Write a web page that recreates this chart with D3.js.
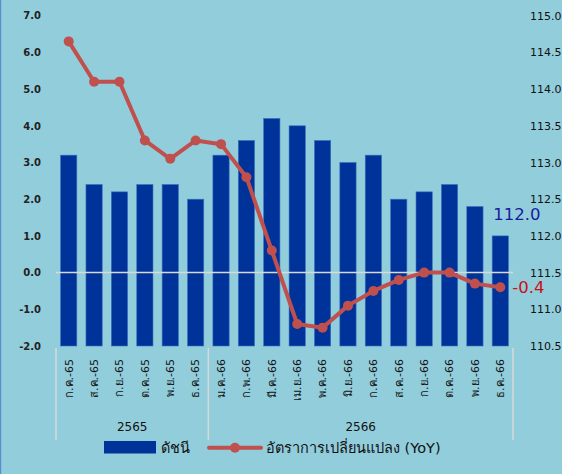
<!DOCTYPE html>
<html><head><meta charset="utf-8">
<script src="https://cdn.jsdelivr.net/npm/d3@7"></script>
<style>
html,body{margin:0;padding:0;background:#92CDDC;}
svg{display:block;}
</style></head>
<body>
<svg id="c" width="562" height="474"></svg>
<script>
const categories = ["ก.ค.-65","ส.ค.-65","ก.ย.-65","ต.ค.-65","พ.ย.-65","ธ.ค.-65","ม.ค.-66","ก.พ.-66","มี.ค.-66","เม.ย.-66","พ.ค.-66","มิ.ย.-66","ก.ค.-66","ส.ค.-66","ก.ย.-66","ต.ค.-66","พ.ย.-66","ธ.ค.-66"];
const indexValues = [113.1,112.7,112.6,112.7,112.7,112.5,113.1,113.3,113.6,113.5,113.3,113.0,113.1,112.5,112.6,112.7,112.4,112.0];
const yoyValues = [6.3,5.2,5.2,3.6,3.1,3.6,3.5,2.6,0.6,-1.4,-1.5,-0.9,-0.5,-0.2,0.0,0.0,-0.3,-0.4];
const leftTicks = [-2,-1,0,1,2,3,4,5,6,7];
const rightTicks = [110.5,111,111.5,112,112.5,113,113.5,114,114.5,115];
const groups = [{label:"2565", from:0, to:5},{label:"2566", from:6, to:17}];
const legendLabels = ["ดัชนี","อัตราการเปลี่ยนแปลง (YoY)"];

const svg = d3.select("#c");
const FONT = "Tahoma, 'DejaVu Sans', 'Noto Sans', sans-serif";
const fmt = d => d.toFixed(1);
svg.append("rect").attr("width",562).attr("height",474).attr("fill","#92CDDC");
svg.append("line").attr("x1",0.5).attr("x2",0.5).attr("y1",0).attr("y2",474).attr("stroke","#5B8FC7").attr("stroke-width",1.5);

const L=56, R=513, T=15.7, B=346;
const x = d3.scaleBand().domain(categories).range([L,R]).paddingInner(0.36).paddingOuter(0.18);
const yL = d3.scaleLinear().domain([-2,7]).range([B,T]);
const yR = d3.scaleLinear().domain([110.5,115]).range([B,T]);

// left axis
const axL = svg.append("g").attr("transform",`translate(${L},0)`)
  .call(d3.axisLeft(yL).tickValues(leftTicks).tickSize(0).tickPadding(15).tickFormat(fmt));
axL.select(".domain").remove();
axL.selectAll("text").attr("font-family",FONT).attr("font-size",10).attr("font-weight","bold").attr("fill","#222");

// right axis
const axR = svg.append("g").attr("transform",`translate(${R},0)`)
  .call(d3.axisRight(yR).tickValues(rightTicks).tickSize(0).tickPadding(17).tickFormat(fmt));
axR.select(".domain").remove();
axR.selectAll("text").attr("font-family",FONT).attr("font-size",11).attr("fill","#111");

// bars
svg.append("g").selectAll("rect").data(indexValues).join("rect")
  .attr("x",(d,i)=>x(categories[i]))
  .attr("width",x.bandwidth())
  .attr("y",d=>yR(d))
  .attr("height",d=>yR(110.5)-yR(d))
  .attr("fill","#003399")
  .attr("stroke","#3A6FC0").attr("stroke-width",0.6);

// zero line
svg.append("line").attr("x1",L).attr("x2",R).attr("y1",yL(0)).attr("y2",yL(0))
  .attr("stroke","#D9D9D9").attr("stroke-width",1.5);

// line
const cx = i => x(categories[i]) + x.bandwidth()/2;
const line = d3.line().x((d,i)=>cx(i)).y(d=>yL(d));
svg.append("path").datum(yoyValues).attr("d",line).attr("fill","none")
  .attr("stroke","#C0504D").attr("stroke-width",4).attr("stroke-linejoin","round");
svg.append("g").selectAll("circle").data(yoyValues).join("circle")
  .attr("cx",(d,i)=>cx(i)).attr("cy",d=>yL(d)).attr("r",5).attr("fill","#C0504D");

// value labels
const n = categories.length-1;
svg.append("text").attr("x",cx(n)-7).attr("y",yR(indexValues[n])-16)
  .attr("font-family",FONT).attr("font-size",16.5).attr("fill","#1A1A9C").text(fmt(indexValues[n]));
svg.append("text").attr("x",cx(n)+12).attr("y",yL(yoyValues[n])+6)
  .attr("font-family",FONT).attr("font-size",16.5).attr("fill","#CC1111").text(fmt(yoyValues[n]));

// category axis
const axB = svg.append("g").attr("transform",`translate(0,${B})`)
  .call(d3.axisBottom(x).tickSize(0).tickPadding(0));
axB.select(".domain").remove();
axB.selectAll("text")
  .attr("font-family",FONT).attr("font-size",11).attr("fill","#111")
  .attr("text-anchor","end").attr("dy","0.35em")
  .attr("transform","translate(0,13) rotate(-90)")
  .attr("y",0).attr("x",0);

// group separators
const sepX = [L, (x(categories[5])+x.bandwidth()+x(categories[6]))/2, R];
svg.append("g").selectAll("line").data(sepX).join("line")
  .attr("x1",d=>d).attr("x2",d=>d).attr("y1",348).attr("y2",440)
  .attr("stroke","#D9D9D9").attr("stroke-width",1.5);
svg.append("g").selectAll("text").data(groups).join("text")
  .attr("x",g=>(x(categories[g.from])+x(categories[g.to])+x.bandwidth())/2)
  .attr("y",431).attr("text-anchor","middle")
  .attr("font-family",FONT).attr("font-size",12).attr("fill","#111").text(g=>g.label);

// legend
const lg = svg.append("g");
lg.append("rect").attr("x",104).attr("y",441).attr("width",52).attr("height",12.5).attr("fill","#003399");
lg.append("text").attr("x",161).attr("y",452.5).attr("font-family",FONT).attr("font-size",14.5).attr("fill","#111").text(legendLabels[0]);
lg.append("line").attr("x1",209).attr("x2",261).attr("y1",447.7).attr("y2",447.7).attr("stroke","#C0504D").attr("stroke-width",4).attr("stroke-linecap","round");
lg.append("circle").attr("cx",235).attr("cy",447.7).attr("r",5).attr("fill","#C0504D");
lg.append("text").attr("x",266).attr("y",452.5).attr("font-family",FONT).attr("font-size",14.5).attr("fill","#111").text(legendLabels[1]);
</script>
</body></html>
